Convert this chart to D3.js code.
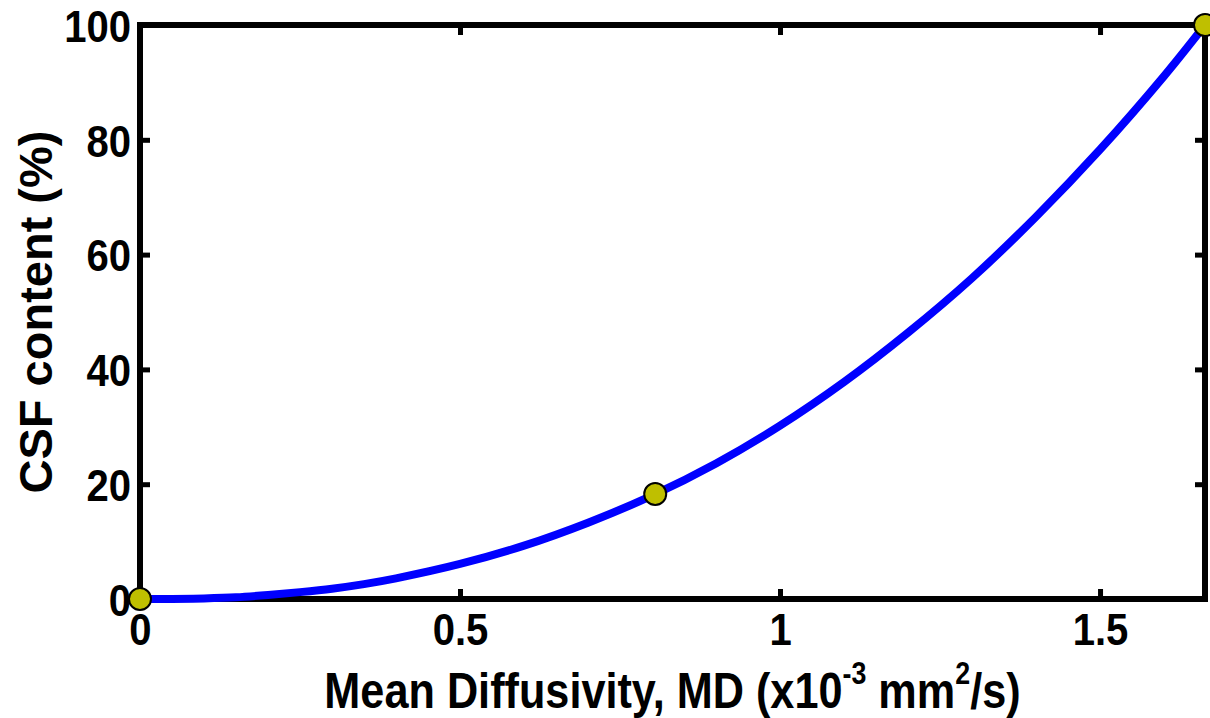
<!DOCTYPE html>
<html>
<head>
<meta charset="utf-8"/>
<script src="https://cdn.jsdelivr.net/npm/d3@7"></script>
<style>
body { margin: 0; background: #fff; }
svg text { font-family: "Liberation Sans", Arial, sans-serif; font-weight: bold; fill: #000; }
</style>
</head>
<body>
<svg id="chart" width="1210" height="718"></svg>
<script>
// curve
var mdValues  = [0, 0.05, 0.1, 0.15, 0.2, 0.25, 0.3, 0.35, 0.4, 0.5, 0.6, 0.7, 0.8, 0.9, 1.0, 1.1, 1.2, 1.3, 1.4, 1.5, 1.6, 1.664];
var csfValues = [0, 0, 0.1, 0.3, 0.7, 1.2, 1.8, 2.6, 3.6, 6.1, 9.3, 13.3, 18.0, 23.6, 30.2, 37.8, 46.4, 55.9, 66.6, 78.3, 91.1, 100];
// highlighted points
var markerMd  = [0, 0.805, 1.664];
var markerCsf = [0, 18.3, 100];
var xTicks = [0, 0.5, 1, 1.5];
var xTickLabels = ["0", "0.5", "1", "1.5"];
var yTicks = [0, 20, 40, 60, 80, 100];
var yTickLabels = ["0", "20", "40", "60", "80", "100"];

var plotLeft = 140, plotRight = 1205, plotTop = 25, plotBottom = 599;
var sx = 0.89; // the original text is a bit narrow

var svg = d3.select("#chart");

var x = d3.scaleLinear().domain([0, 1.664]).range([plotLeft, plotRight]);
var y = d3.scaleLinear().domain([0, 100]).range([plotBottom, plotTop]);

// frame
svg.append("rect")
    .attr("x", plotLeft).attr("y", plotTop)
    .attr("width", plotRight - plotLeft).attr("height", plotBottom - plotTop)
    .attr("fill", "none").attr("stroke", "#000").attr("stroke-width", 6);

function styleAxis(g) {
  g.select(".domain").remove();
  g.selectAll(".tick line").attr("stroke", "#000").attr("stroke-width", 5);
}

var bottomAxis = svg.append("g")
    .attr("transform", "translate(0," + plotBottom + ")")
    .call(d3.axisBottom(x).tickValues(xTicks).tickSizeInner(-10).tickSizeOuter(0)
      .tickFormat(function(d, i) { return xTickLabels[i]; }))
    .call(styleAxis);
bottomAxis.selectAll(".tick text")
    .attr("y", null).attr("dy", null)
    .attr("font-size", 45)
    .attr("text-anchor", "middle")
    .attr("transform", "translate(0,46) scale(" + sx + ",1)");

svg.append("g")
    .attr("transform", "translate(0," + plotTop + ")")
    .call(d3.axisTop(x).tickValues(xTicks).tickSizeInner(-10).tickSizeOuter(0).tickFormat(""))
    .call(styleAxis);

var leftAxis = svg.append("g")
    .attr("transform", "translate(" + plotLeft + ",0)")
    .call(d3.axisLeft(y).tickValues(yTicks).tickSizeInner(-10).tickSizeOuter(0)
      .tickFormat(function(d, i) { return yTickLabels[i]; }))
    .call(styleAxis);
leftAxis.selectAll(".tick text")
    .attr("x", null).attr("dy", "0.36em")
    .attr("font-size", 45)
    .attr("text-anchor", "end")
    .attr("transform", "translate(-9,0) scale(" + sx + ",1)");

svg.append("g")
    .attr("transform", "translate(" + plotRight + ",0)")
    .call(d3.axisRight(y).tickValues(yTicks).tickSizeInner(-10).tickSizeOuter(0).tickFormat(""))
    .call(styleAxis);

// curve
var line = d3.line()
    .x(function(d) { return x(d[0]); })
    .y(function(d) { return y(d[1]); })
    .curve(d3.curveCatmullRom);

svg.append("path")
    .datum(d3.zip(mdValues, csfValues))
    .attr("d", line)
    .attr("fill", "none")
    .attr("stroke", "#0000ff")
    .attr("stroke-width", 8)
    .attr("stroke-linejoin", "round");

svg.selectAll("circle.pt")
    .data(d3.zip(markerMd, markerCsf))
  .enter().append("circle")
    .attr("class", "pt")
    .attr("cx", function(d) { return x(d[0]); })
    .attr("cy", function(d) { return y(d[1]); })
    .attr("r", 11)
    .attr("fill", "#bfbf00")
    .attr("stroke", "#000")
    .attr("stroke-width", 2);

// axis labels
var xl = svg.append("text")
    .attr("font-size", 50)
    .attr("text-anchor", "middle")
    .attr("transform", "translate(" + ((plotLeft + plotRight) / 2) + ",708) scale(0.865,1)");
xl.append("tspan").text("Mean Diffusivity, MD (x10");
xl.append("tspan").attr("font-size", 31).attr("dy", -24).text("-3");
xl.append("tspan").attr("dy", 24).text(" mm");
xl.append("tspan").attr("font-size", 31).attr("dy", -24).text("2");
xl.append("tspan").attr("dy", 24).text("/s)");

svg.append("text")
    .attr("font-size", 47)
    .attr("text-anchor", "middle")
    .attr("transform", "translate(52," + ((plotTop + plotBottom) / 2) + ") rotate(-90)")
    .text("CSF content (%)");
</script>
</body>
</html>
